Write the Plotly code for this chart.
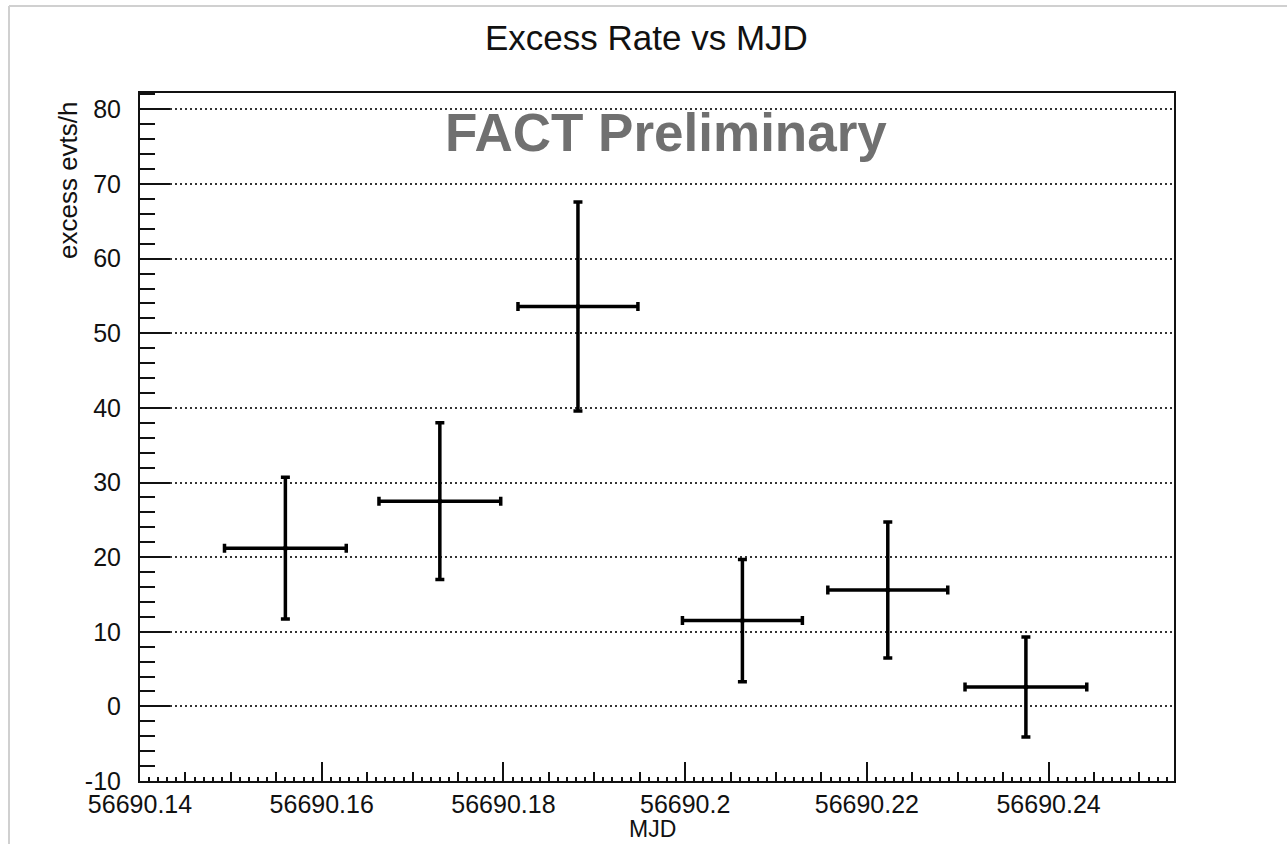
import plotly.graph_objects as go

# ---- data ----
mjd = [56690.1560, 56690.1730, 56690.1882, 56690.2063, 56690.2223, 56690.2375]
mjd_err = [0.0067, 0.0067, 0.0066, 0.0066, 0.0066, 0.0067]
excess = [21.2, 27.5, 53.6, 11.5, 15.6, 2.6]
excess_err = [9.5, 10.5, 14.0, 8.2, 9.1, 6.7]

x_tickvals = [56690.14, 56690.16, 56690.18, 56690.20, 56690.22, 56690.24]
x_ticktext = ["56690.14", "56690.16", "56690.18", "56690.2", "56690.22", "56690.24"]
y_tickvals = [-10, 0, 10, 20, 30, 40, 50, 60, 70, 80]
y_ticktext = ["-10", "0", "10", "20", "30", "40", "50", "60", "70", "80"]
x_range = [56690.14, 56690.2538]
y_range = [-10, 82.2]

FONT = "Liberation Sans, Arial, Helvetica, sans-serif"

fig = go.Figure()
fig.add_trace(go.Scatter(
    x=mjd, y=excess, mode="markers",
    marker=dict(color="black", size=5),
    error_x=dict(type="data", array=mjd_err, color="black", thickness=3.5, width=4.5),
    error_y=dict(type="data", array=excess_err, color="black", thickness=3.5, width=4.5),
    showlegend=False, hoverinfo="x+y",
))
# empty trace to anchor the fine-tick overlay axis
fig.add_trace(go.Scatter(x=[], y=[], xaxis="x2", yaxis="y", showlegend=False))

fig.update_layout(
    width=1287, height=844,
    margin=dict(l=140, r=113, t=93, b=63),
    paper_bgcolor="white", plot_bgcolor="white",
    font=dict(family=FONT, color="#111"),
    xaxis=dict(
        range=x_range, tickmode="array", tickvals=x_tickvals, ticktext=x_ticktext,
        ticks="inside", ticklen=19, tickwidth=2, tickcolor="#111",
        tickfont=dict(size=25, family=FONT, color="#111"),
        ticklabelstandoff=0,
        minor=dict(dtick=0.005, tick0=56690.14, ticks="inside", ticklen=9, tickwidth=2, tickcolor="#111"),
        showgrid=False, zeroline=False,
        showline=True, linewidth=2, linecolor="#111", mirror=True,
    ),
    xaxis2=dict(
        range=x_range, overlaying="x", anchor="y", side="bottom",
        tickmode="linear", tick0=56690.14, dtick=0.001,
        ticks="inside", ticklen=4, tickwidth=1.5, tickcolor="#111",
        showticklabels=False, showgrid=False, zeroline=False, showline=False,
    ),
    yaxis=dict(
        range=y_range, tickmode="array", tickvals=y_tickvals, ticktext=y_ticktext,
        ticks="inside", ticklen=30, tickwidth=2, tickcolor="#111",
        tickfont=dict(size=25, family=FONT, color="#111"),
        ticklabelstandoff=12,
        minor=dict(dtick=2, tick0=0, ticks="inside", ticklen=15, tickwidth=2, tickcolor="#111"),
        showgrid=True, gridcolor="#333", gridwidth=1.5, griddash="2px,3px",
        zeroline=False,
        showline=True, linewidth=2, linecolor="#111", mirror=True,
    ),
    annotations=[
        dict(text="Excess Rate vs MJD", xref="paper", yref="paper",
             x=(646 - 140) / 1034, y=(781 - 37) / 688, xanchor="center", yanchor="middle",
             showarrow=False, font=dict(size=35, family=FONT, color="#111")),
        dict(text="<b>FACT Preliminary</b>", xref="paper", yref="paper",
             x=(666 - 140) / 1034, y=(781 - 132) / 688, xanchor="center", yanchor="middle",
             showarrow=False, font=dict(size=53, family=FONT, color="#707070")),
        dict(text="excess evts/h", xref="paper", yref="paper", textangle=-90,
             x=(68 - 140) / 1034, y=(781 - 180) / 688, xanchor="center", yanchor="middle",
             showarrow=False, font=dict(size=26, family=FONT, color="#111")),
        dict(text="MJD", xref="paper", yref="paper",
             x=(652 - 140) / 1034, y=(781 - 829) / 688, xanchor="center", yanchor="middle",
             showarrow=False, font=dict(size=23, family=FONT, color="#111")),
    ],
    shapes=[
        dict(type="line", xref="paper", yref="paper",
             x0=(9 - 140) / 1034, x1=(1287 - 140) / 1034, y0=(781 - 6) / 688, y1=(781 - 6) / 688,
             line=dict(color="#d0d0d0", width=2)),
        dict(type="line", xref="paper", yref="paper",
             x0=(9 - 140) / 1034, x1=(9 - 140) / 1034, y0=(781 - 6) / 688, y1=(781 - 844) / 688,
             line=dict(color="#d0d0d0", width=2)),
    ],
)

fig.write_html("out.html")
